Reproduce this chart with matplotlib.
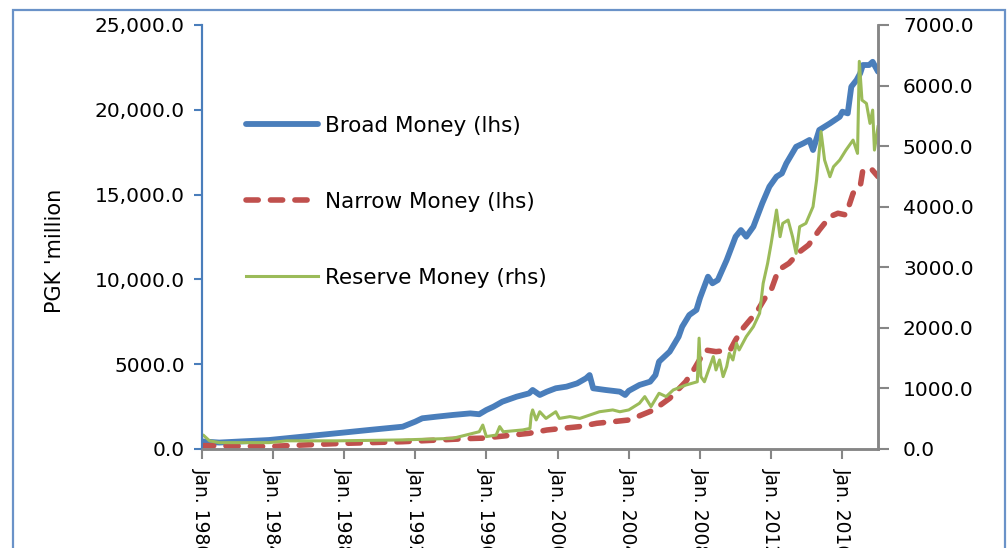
import matplotlib
matplotlib.use("Agg")
import matplotlib.pyplot as plt
from matplotlib.patches import Rectangle

# values (decimal year, PGK million)
bm_year = [1980.0, 1981.0, 1983.8, 1986.6, 1987.9, 1989.4, 1991.3, 1992.0, 1992.4, 1993.2,
           1994.1, 1995.1, 1995.6, 1996.0, 1996.4, 1996.9, 1997.7, 1998.4, 1998.6, 1999.0,
           1999.4, 1999.9, 2000.5, 2001.1, 2001.6, 2001.8, 2002.0, 2002.7, 2003.5, 2003.8,
           2004.0, 2004.6, 2005.2, 2005.5, 2005.7, 2006.3, 2006.8, 2007.0, 2007.4, 2007.8,
           2008.0, 2008.45, 2008.7, 2009.0, 2009.5, 2010.0, 2010.3, 2010.6, 2011.0, 2011.5,
           2011.9, 2012.3, 2012.6, 2012.85, 2013.4, 2013.8, 2014.15, 2014.35, 2014.7, 2015.3,
           2015.85, 2016.0, 2016.3, 2016.5, 2016.8, 2017.0, 2017.15, 2017.5, 2017.7, 2018.0]
bm_val = [450, 380, 530, 825, 960, 1120, 1315, 1610, 1810, 1905,
          2005, 2100, 2050, 2300, 2495, 2790, 3085, 3280, 3480, 3185,
          3380, 3580, 3675, 3870, 4170, 4360, 3580, 3480, 3380, 3185,
          3430, 3775, 3970, 4360, 5150, 5740, 6620, 7210, 7900, 8200,
          8900, 10160, 9770, 9960, 11140, 12520, 12910, 12520, 13110, 14490,
          15470, 16060, 16250, 16840, 17820, 18020, 18220, 17630, 18810, 19200,
          19590, 19890, 19790, 21360, 21760, 22150, 22640, 22640, 22830, 22250]

nm_year = [1980.0, 1983.8, 1987.6, 1991.3, 1995.1, 1995.8, 1996.6, 1997.5, 1998.4, 1999.4,
           2000.3, 2001.2, 2002.2, 2003.1, 2004.0, 2004.4, 2005.4, 2006.3, 2007.2, 2007.7,
           2008.3, 2008.9, 2009.7, 2010.0, 2010.4, 2011.2, 2011.7, 2012.0, 2012.4, 2013.0,
           2013.6, 2014.1, 2014.7, 2015.3, 2015.75, 2016.2, 2016.6, 2017.0, 2017.15, 2017.6,
           2018.0]
nm_val = [200, 150, 320, 430, 620, 640, 725, 825, 925, 1120,
          1220, 1315, 1515, 1610, 1710, 1870, 2300, 2990, 3970, 4760,
          5840, 5740, 5840, 6430, 7100, 8100, 8980, 9375, 10550, 10950,
          11630, 12030, 12910, 13700, 13900, 13800, 15080, 15470, 16450, 16550,
          16060]

rm_year = [1980.0, 1980.1, 1980.45, 1981.0, 1983.8, 1984.8, 1987.6, 1991.3, 1994.1, 1995.6,
           1995.8, 1996.0, 1996.55, 1996.75, 1996.95, 1998.05, 1998.45, 1998.52, 1998.6, 1998.8,
           1999.0, 1999.35, 1999.9, 2000.1, 2000.7, 2001.25, 2001.8, 2002.35, 2003.1, 2003.5,
           2004.0, 2004.6, 2004.9, 2005.25, 2005.7, 2006.1, 2006.5, 2007.2, 2007.85, 2007.95,
           2008.05, 2008.25, 2008.55, 2008.75, 2008.9, 2009.1, 2009.3, 2009.5, 2009.65, 2009.85,
           2010.05, 2010.2, 2010.6, 2011.0, 2011.35, 2011.55, 2011.8, 2012.0, 2012.3, 2012.5,
           2012.65, 2012.95, 2013.2, 2013.4, 2013.6, 2013.95, 2014.35, 2014.55, 2014.8, 2015.0,
           2015.3, 2015.5, 2015.85, 2016.2, 2016.6, 2016.85, 2016.95, 2017.1, 2017.35, 2017.55,
           2017.7, 2017.8, 2018.0]
rm_val = [200, 230, 135, 105, 105, 135, 135, 150, 175, 285,
          395, 205, 230, 370, 285, 315, 340, 560, 645, 480,
          615, 505, 615, 505, 535, 505, 560, 615, 645, 615,
          645, 755, 865, 700, 920, 865, 975, 1055, 1110, 1830,
          1195, 1110, 1360, 1525, 1305, 1470, 1195, 1360, 1580, 1470,
          1745, 1635, 1855, 2020, 2240, 2735, 3065, 3395, 3945, 3505,
          3725, 3780, 3505, 3230, 3670, 3725, 4000, 4440, 5240, 4770,
          4495, 4660, 4770, 4935, 5100, 4880, 6400, 5760, 5705, 5375,
          5595, 4935, 5320]

x_ticks = [1980, 1984, 1988, 1992, 1996, 2000, 2004, 2008, 2012, 2016]
x_labels = ["Jan. %d" % y for y in x_ticks]
lhs_ticks = [0, 5000, 10000, 15000, 20000, 25000]
lhs_labels = ["0.0", "5000.0", "10,000.0", "15,000.0", "20,000.0", "25,000.0"]
rhs_ticks = [0, 1000, 2000, 3000, 4000, 5000, 6000, 7000]
rhs_labels = ["%d.0" % v if v else "0.0" for v in rhs_ticks]

BLUE = "#4A7EBB"
RED = "#C0504D"
GREEN = "#9BBB59"
GREY = "#868686"
FS = 14.5

plt.rcParams["font.family"] = "DejaVu Sans"

fig = plt.figure(figsize=(10.07, 5.48), dpi=100)
ax = fig.add_axes([201.5 / 1007, 1 - 449 / 548, (878 - 201.5) / 1007, (449 - 25) / 548])
ax2 = ax.twinx()

l1, = ax.plot(bm_year, bm_val, color=BLUE, lw=4.2, solid_capstyle="round",
              solid_joinstyle="round", label="Broad Money (lhs)")
l2, = ax.plot(nm_year, nm_val, color=RED, lw=4.0, dashes=(2.2, 2.2),
              dash_capstyle="round", label="Narrow Money (lhs)")
l3, = ax2.plot(rm_year, rm_val, color=GREEN, lw=2.2, label="Reserve Money (rhs)")

ax.set_xlim(1980, 2018)
ax.set_ylim(0, 25000)
ax2.set_ylim(0, 7000)

ax.set_xticks(x_ticks)
ax.set_xticklabels(x_labels, rotation=-90, fontsize=13.5, va="top", ha="center")
ax.set_yticks(lhs_ticks)
ax.set_yticklabels(lhs_labels, fontsize=FS)
ax2.set_yticks(rhs_ticks)
ax2.set_yticklabels(rhs_labels, fontsize=FS)

ax.tick_params(axis="x", direction="out", length=7, width=1.5, color=GREY, pad=7)
ax.tick_params(axis="y", direction="out", length=6, width=1.5, color=BLUE, pad=6)
ax2.tick_params(axis="y", direction="out", length=8, width=1.5, color=GREY, pad=10)

for a in (ax, ax2):
    a.spines["top"].set_visible(False)
    a.spines["left"].set_color(BLUE)
    a.spines["left"].set_linewidth(1.5)
    a.spines["right"].set_color(GREY)
    a.spines["right"].set_linewidth(1.8)
    a.spines["bottom"].set_color(GREY)
    a.spines["bottom"].set_linewidth(1.8)

fig.text(55 / 1007, 1 - 251 / 548, "PGK 'million", rotation=90, fontsize=15,
         ha="center", va="center")

ax.legend(handles=[l1, l2, l3], loc="upper left",
          bbox_to_anchor=(246 / 1007, 1 - 116 / 548), bbox_transform=fig.transFigure,
          frameon=False, fontsize=15.5, borderpad=0, borderaxespad=0,
          handlelength=3.35, handletextpad=0.3, labelspacing=2.6)

# outer chart-area border (bottom edge falls outside the picture)
fig.patches.append(Rectangle((13 / 1007, -0.2), (1005 - 13) / 1007, 1.2 - 10 / 548,
                             transform=fig.transFigure, fill=False,
                             edgecolor="#6A92C8", lw=1.6))

fig.savefig("out.png", dpi=100)
